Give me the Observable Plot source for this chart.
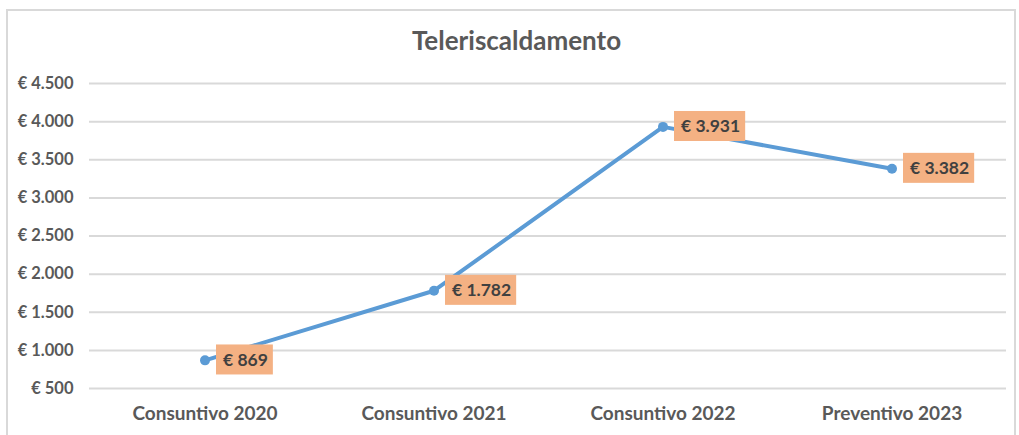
<!DOCTYPE html>
<html>
<head>
<meta charset="utf-8">
<script src="https://cdn.jsdelivr.net/npm/d3@7"></script>
<script src="https://cdn.jsdelivr.net/npm/@observablehq/plot@0.6"></script>
<style>
  html, body { margin: 0; padding: 0; background: #fff; width: 1019px; height: 435px; overflow: hidden; }
  #frame { position: absolute; left: 6px; top: 9px; width: 1010px; height: 440px; border: 2px solid #d9d9d9; box-sizing: border-box; }
  #title { position: absolute; left: 0; top: 0; width: 1033px; height: 70px; text-align: center; font-family: Lato, "Open Sans", sans-serif; font-weight: 700; font-size: 26px; line-height: 80px; color: #595959; }
  #chart { position: absolute; left: 0; top: 70px; }
  svg { overflow: visible; }
</style>
</head>
<body>
<div id="frame"></div>
<div id="title">Teleriscaldamento</div>
<div id="chart"></div>
<script>
const categories = ["Consuntivo 2020", "Consuntivo 2021", "Consuntivo 2022", "Preventivo 2023"];
const values = [869, 1782, 3931, 3382];
const yTicks = [500, 1000, 1500, 2000, 2500, 3000, 3500, 4000, 4500];

const it = d3.formatLocale({decimal: ",", thousands: ".", grouping: [3], currency: ["€ ", ""]});
const fmt = it.format("$,.0f");

const data = categories.map((c, i) => ({cat: c, val: values[i]}));
const blue = "#5B9BD5";
const font = "Lato, 'Open Sans', sans-serif";

const chart = Plot.plot({
  width: 1019,
  height: 365,
  marginTop: 13,
  marginBottom: 47,
  marginLeft: 89,
  marginRight: 13,
  style: {fontFamily: font, fontWeight: 700, color: "#595959", background: "transparent"},
  x: {type: "band", domain: categories, label: null, tickSize: 0, tickPadding: 18, padding: 0},
  y: {domain: [500, 4500], ticks: yTicks, tickFormat: fmt, label: null, tickSize: 0, tickPadding: 16},
  marks: [
    Plot.gridY(yTicks, {stroke: "#d9d9d9", strokeOpacity: 1, strokeWidth: 2}),
    Plot.axisY({ticks: yTicks, tickFormat: fmt, tickSize: 0, tickPadding: 16, fontSize: 16.5, fill: "#595959", label: null}),
    Plot.axisX({tickSize: 0, tickPadding: 18, fontSize: 19, fill: "#595959", label: null}),
    Plot.line(data, {x: "cat", y: "val", stroke: blue, strokeWidth: 4}),
    Plot.dot(data, {x: "cat", y: "val", r: 5, fill: blue}),
    Plot.text(data, {x: "cat", y: "val", text: d => fmt(d.val), dx: 18, textAnchor: "start", fontSize: 17.5, fontWeight: 700, fill: "#404040"})
  ]
});
document.getElementById("chart").append(chart);

// add label backgrounds behind the data labels
const gs = chart.querySelectorAll('g[aria-label="text"]');
gs.forEach(g => {
  g.querySelectorAll("text").forEach(t => {
    const b = t.getBBox();
    const r = document.createElementNS("http://www.w3.org/2000/svg", "rect");
    const tr = t.getAttribute("transform");
    if (tr) r.setAttribute("transform", tr);
    r.setAttribute("x", b.x - 7);
    r.setAttribute("y", b.y + b.height / 2 - 15);
    r.setAttribute("width", b.width + 12);
    r.setAttribute("height", 30);
    r.setAttribute("fill", "#F4B183");
    g.insertBefore(r, t);
  });
});
</script>
</body>
</html>
